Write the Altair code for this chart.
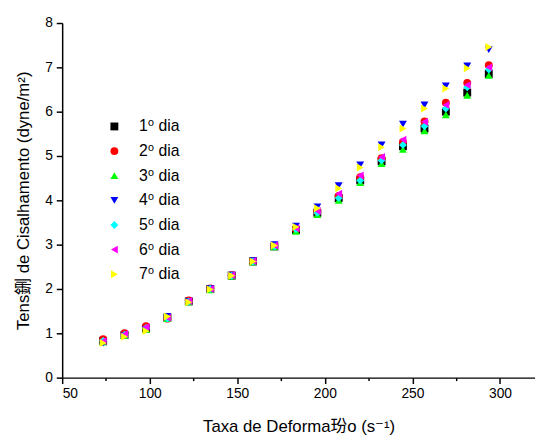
import altair as alt
import pandas as pd

# Shear rate (s^-1)
taxa = [73.4, 85.6, 97.9, 110.1, 122.3, 134.6, 146.8, 159.0, 171.2, 183.5,
        195.7, 207.9, 220.2, 232.4, 244.6, 256.9, 269.1, 281.3, 293.6]

series_names = ["1⁰ dia", "2⁰ dia", "3⁰ dia", "4⁰ dia", "5⁰ dia", "6⁰ dia", "7⁰ dia"]

dia1 = [0.83, 0.96, 1.11, 1.35, 1.72, 2.00, 2.30, 2.62, 2.96, 3.33, 3.72, 4.05, 4.45, 4.88, 5.22, 5.62, 6.00, 6.43, 6.85]
dia2 = [0.87, 1.00, 1.16, 1.33, 1.74, 2.01, 2.31, 2.63, 2.97, 3.35, 3.75, 4.10, 4.52, 4.95, 5.32, 5.78, 6.20, 6.65, 7.05]
dia3 = [0.80, 0.95, 1.09, 1.33, 1.71, 1.98, 2.29, 2.61, 2.95, 3.30, 3.68, 4.00, 4.40, 4.83, 5.15, 5.57, 5.93, 6.37, 6.82]
dia4 = [0.78, 0.94, 1.08, 1.38, 1.72, 2.01, 2.31, 2.64, 3.00, 3.42, 3.85, 4.33, 4.80, 5.25, 5.72, 6.15, 6.58, 7.03, 7.40]
dia5 = [0.83, 0.97, 1.12, 1.33, 1.72, 2.00, 2.30, 2.62, 2.96, 3.35, 3.72, 4.05, 4.45, 4.90, 5.25, 5.67, 6.07, 6.55, 6.95]
dia6 = [0.82, 0.98, 1.14, 1.35, 1.73, 2.00, 2.31, 2.63, 2.98, 3.37, 3.76, 4.15, 4.56, 4.98, 5.37, 5.77, 6.15, 6.60, 7.00]
dia7 = [0.78, 0.92, 1.05, 1.38, 1.70, 1.99, 2.30, 2.62, 2.98, 3.40, 3.82, 4.27, 4.74, 5.20, 5.62, 6.07, 6.52, 6.98, 7.46]

colors = ["#000000", "#FF0000", "#00FF00", "#0000FF", "#00FFFF", "#FF00FF", "#FFFF00"]
shapes = ["square", "circle", "triangle-up", "triangle-down", "diamond", "triangle-left", "triangle-right"]

x_ticks = [50, 75, 100, 125, 150, 175, 200, 225, 250, 275, 300]
y_ticks = [0, 0.5, 1, 1.5, 2, 2.5, 3, 3.5, 4, 4.5, 5, 5.5, 6, 6.5, 7, 7.5, 8]

all_series = [dia1, dia2, dia3, dia4, dia5, dia6, dia7]
rows = []
for order, (name, vals) in enumerate(zip(series_names, all_series)):
    for xv, yv in zip(taxa, vals):
        rows.append({"taxa": xv, "tensao": yv, "serie": name, "ordem": order})
df = pd.DataFrame(rows)

FONT = "Liberation Sans, Arial, Noto Sans CJK SC, DejaVu Sans"

legend = alt.Legend(title=None, orient="none", legendX=45, legendY=97)

chart = alt.Chart(df).mark_point(filled=True, size=64, opacity=1).encode(
    x=alt.X("taxa:Q",
            scale=alt.Scale(domain=[50, 320], nice=False, zero=False),
            axis=alt.Axis(
                title="Taxa de Deforma玢o (s⁻¹)",
                values=x_ticks,
                format="d",
                labelExpr="datum.value % 50 === 0 ? datum.label : ''",
                tickSize={"condition": {"test": "datum.value % 50 === 0", "value": 6}, "value": 3},
                labelPadding=3,
                titlePadding=19,
            )),
    y=alt.Y("tensao:Q",
            scale=alt.Scale(domain=[0, 8], nice=False, zero=False),
            axis=alt.Axis(
                title="Tens鉶 de Cisalhamento (dyne/m²)",
                values=y_ticks,
                format="d",
                labelExpr="datum.value % 1 === 0 ? datum.label : ''",
                tickSize={"condition": {"test": "datum.value % 1 === 0", "value": 6}, "value": 3},
                labelPadding=4,
                titlePadding=12,
            )),
    color=alt.Color("serie:N",
                    scale=alt.Scale(domain=series_names, range=colors),
                    legend=legend),
    shape=alt.Shape("serie:N",
                    scale=alt.Scale(domain=series_names, range=shapes),
                    legend=legend),
    order=alt.Order("ordem:Q"),
).properties(
    width=480,
    height=360,
    autosize=alt.AutoSizeParams(type="none"),
    padding={"left": 55, "top": 12, "right": 0, "bottom": 56},
).configure_view(
    stroke=None
).configure_axis(
    grid=False,
    domainColor="#000000",
    domainWidth=1.5,
    tickColor="#000000",
    tickWidth=1.5,
    labelColor="#000000",
    labelFont=FONT,
    labelFontSize=14,
    titleFont=FONT,
    titleFontSize=17,
    titleFontWeight="normal",
    titleColor="#000000",
).configure_legend(
    labelFont=FONT,
    labelFontSize=16,
    labelColor="#000000",
    symbolSize=64,
    symbolStrokeWidth=0,
    rowPadding=9,
    labelOffset=17,
    padding=0,
)

chart.save("out.html", embed_options={"renderer": "svg", "actions": False})
